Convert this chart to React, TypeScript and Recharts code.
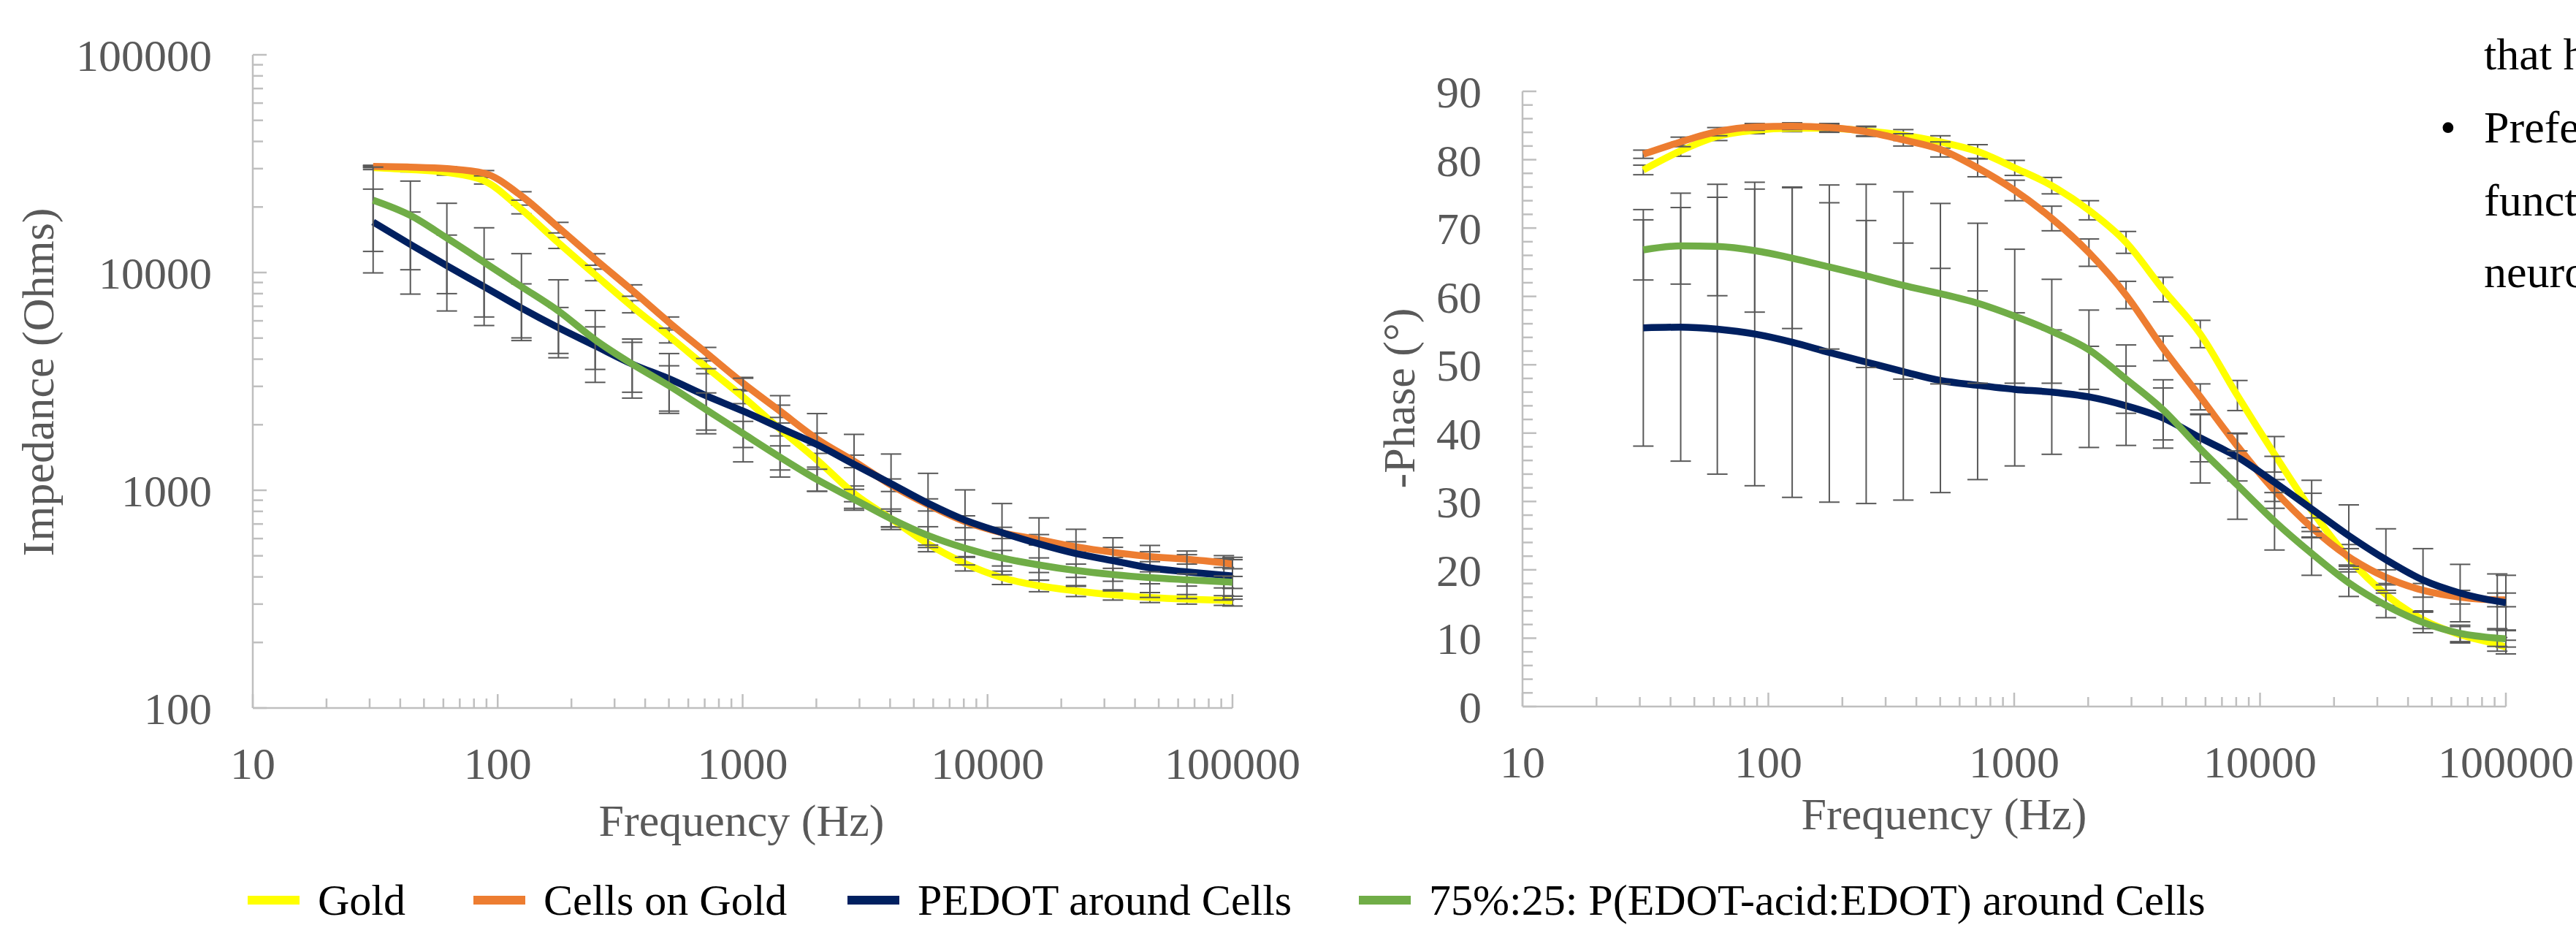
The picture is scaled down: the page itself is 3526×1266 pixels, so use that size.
import { LineChart, Line, XAxis, YAxis, ErrorBar } from "recharts";

// sweep frequencies (Hz)
const frequencies = [31, 44, 62, 88, 125, 177, 250, 354, 501, 710, 1005, 1422, 2014, 2851, 4036, 5715, 8091, 11455, 16218, 22961, 32509, 46026, 65163, 92257, 100000];

// impedance (Ohms)
const goldZ = [30300, 29700, 28800, 26400, 19500, 13700, 9770, 6980, 5100, 3680, 2680, 1907, 1377, 966, 740, 567, 461, 397, 364, 345, 331, 322, 316, 312, 310];
const cellsZ = [30700, 30500, 30000, 28600, 22500, 16100, 11500, 8280, 5900, 4280, 3100, 2310, 1720, 1360, 1057, 858, 718, 638, 593, 550, 519, 496, 482, 464, 458];
const pedotZ = [17060, 13460, 10760, 8610, 6870, 5580, 4610, 3800, 3250, 2717, 2310, 1935, 1620, 1316, 1072, 871, 729, 639, 567, 512, 475, 440, 422, 407, 404];
const mixZ = [21500, 18300, 14400, 11150, 8610, 6660, 4910, 3800, 3020, 2345, 1822, 1419, 1119, 910, 740, 620, 542, 489, 454, 428, 410, 397, 388, 380, 378];

const goldZErr = [600, 700, 800, 900, 900, 800, 600, 450, 350, 250, 180, 130, 100, 80, 60, 45, 35, 28, 22, 20, 18, 17, 16, 16, 16];
const cellsZErr = [400, 500, 600, 800, 1000, 900, 700, 500, 350, 250, 200, 150, 110, 90, 70, 55, 45, 38, 33, 30, 28, 26, 24, 22, 22];
const pedotZErr = [7100, 5500, 4100, 2900, 2000, 1330, 1020, 980, 995, 900, 960, 785, 630, 490, 395, 325, 275, 230, 180, 150, 130, 118, 104, 94, 88];
const mixZErr = [9000, 8000, 6400, 4900, 3600, 2600, 1780, 1150, 710, 455, 250, 180, 130, 100, 80, 60, 50, 40, 35, 30, 28, 25, 25, 24, 24];

// -phase (degrees)
const goldP = [78.5, 81.3, 83.4, 84.3, 84.6, 84.6, 84.2, 83.6, 82.6, 81.2, 78.8, 76.2, 72.6, 67.9, 61.0, 54.5, 45.5, 36.9, 28.7, 21.7, 16.4, 12.7, 10.5, 9.1, 8.7];
const cellsP = [80.8, 82.6, 84.1, 84.8, 84.9, 84.7, 84.1, 82.9, 81.5, 78.8, 75.5, 71.4, 66.4, 60.2, 52.4, 45.3, 38.1, 31.6, 26.2, 21.9, 18.9, 17.0, 16.0, 15.6, 15.6];
const pedotP = [55.4, 55.5, 55.2, 54.5, 53.3, 51.8, 50.4, 49.0, 47.7, 47.0, 46.4, 46.0, 45.3, 44.0, 42.2, 39.3, 36.5, 32.8, 28.9, 25.0, 21.5, 18.5, 16.6, 15.4, 15.2];
const mixP = [66.8, 67.4, 67.3, 66.7, 65.6, 64.3, 63.0, 61.6, 60.4, 59.0, 57.1, 54.9, 52.2, 47.9, 43.4, 37.7, 32.4, 27.1, 22.4, 18.1, 14.8, 12.3, 10.7, 10.0, 9.9];

const goldPErr = [0.7, 0.8, 0.6, 0.5, 0.5, 0.6, 0.7, 0.8, 0.9, 1.0, 1.1, 1.2, 1.4, 1.6, 1.8, 2.0, 2.2, 2.6, 2.5, 2.0, 1.6, 1.3, 1.2, 1.0, 1.0];
const cellsPErr = [0.6, 0.7, 0.6, 0.5, 0.5, 0.6, 0.7, 0.9, 1.1, 1.3, 1.5, 1.8, 2.0, 2.0, 1.8, 1.9, 1.8, 1.6, 1.4, 1.2, 1.1, 1.0, 1.0, 1.0, 1.0];
const pedotPErr = [17.3, 19.6, 21.2, 22.2, 22.7, 21.9, 20.7, 18.8, 16.4, 13.8, 11.2, 9.1, 7.4, 5.8, 4.4, 3.5, 3.5, 3.8, 4.2, 4.5, 4.5, 4.6, 4.2, 4.0, 4.0];
const mixPErr = [4.4, 5.6, 7.2, 9.0, 10.3, 12.0, 13.4, 13.7, 13.2, 11.7, 9.8, 7.6, 5.8, 5.0, 4.4, 5.0, 5.0, 4.2, 3.2, 2.0, 1.8, 1.5, 1.2, 1.2, 1.2];

const seriesNames = ["Gold", "Cells on Gold", "PEDOT around Cells", "75%:25: P(EDOT-acid:EDOT) around Cells"];
const seriesColors = ["#FFFF00", "#ED7D31", "#002060", "#70AD47"];

const freqLabels = [10, 100, 1000, 10000, 100000];
const impedanceLabels = [100, 1000, 10000, 100000];
const phaseLabels = [0, 10, 20, 30, 40, 50, 60, 70, 80, 90];

const AXIS = "#BFBFBF";
const TXT = "#595959";
const FONT = "'Liberation Serif', 'Times New Roman', serif";

// log minor ticks 1..9 per decade
const logTicks = (from: number, to: number) => {
  const out: number[] = [];
  for (let d = from; d < to; d *= 10) for (let m = 1; m < 10; m++) out.push(d * m);
  out.push(to);
  return out;
};
const freqTicks = logTicks(10, 100000);
const impedanceTicks = logTicks(100, 100000);
const phaseTicks = Array.from({ length: 46 }, (_, i) => i * 2);

const zRows = frequencies.map((f, i) => ({
  f,
  gold: goldZ[i], goldErr: goldZErr[i],
  cells: cellsZ[i], cellsErr: cellsZErr[i],
  pedot: pedotZ[i], pedotErr: pedotZErr[i],
  mix: mixZ[i], mixErr: mixZErr[i],
}));
const pRows = frequencies.map((f, i) => ({
  f,
  gold: goldP[i], goldErr: goldPErr[i],
  cells: cellsP[i], cellsErr: cellsPErr[i],
  pedot: pedotP[i], pedotErr: pedotPErr[i],
  mix: mixP[i], mixErr: mixPErr[i],
}));

const XTick = (props: any) => {
  const { x, y, payload } = props;
  const major = freqLabels.includes(payload.value);
  return (
    <g>
      <line x1={x} x2={x} y1={y} y2={y - (major ? 19 : 13)} stroke={AXIS} strokeWidth={2.5} />
      {major && (
        <text x={x} y={y + 97} textAnchor="middle" fill={TXT} fontSize={62} fontFamily={FONT}>
          {payload.value}
        </text>
      )}
    </g>
  );
};

const YTick = (labels: number[]) => (props: any) => {
  const { x, y, payload } = props;
  const major = labels.includes(payload.value);
  return (
    <g>
      <line x1={x} x2={x + (major ? 19 : 14)} y1={y} y2={y} stroke={AXIS} strokeWidth={2.5} />
      {major && (
        <text x={x - 56} y={y + 22} textAnchor="end" fill={TXT} fontSize={62} fontFamily={FONT}>
          {payload.value}
        </text>
      )}
    </g>
  );
};

const keys = ["gold", "cells", "pedot", "mix"];

const renderLines = () =>
  keys.map((k, i) => (
    <Line
      key={k}
      dataKey={k}
      type="monotone"
      stroke={seriesColors[i]}
      strokeWidth={9.5}
      dot={false}
      activeDot={false}
      isAnimationActive={false}
    >
      <ErrorBar dataKey={k + "Err"} width={14} strokeWidth={2} stroke="#595959" />
    </Line>
  ));

export default function App() {
  const legendX = [339, 648, 1160, 1860];
  return (
    <div style={{ position: "absolute", left: 0, top: 0, width: 3526, height: 1266, background: "#fff", overflow: "hidden" }}>
      <div style={{ position: "absolute", left: 0, top: 0 }}>
        <LineChart width={1800} height={1150} data={zRows} margin={{ top: 75, right: 113, bottom: 0, left: 0 }}>
          <XAxis
            dataKey="f" type="number" scale="log" domain={[10, 100000]} allowDataOverflow
            ticks={freqTicks} interval={0} tickSize={0} tickMargin={0} tickLine={false}
            axisLine={{ stroke: AXIS, strokeWidth: 2.5 }} tick={XTick} height={181}
          />
          <YAxis
            type="number" scale="log" domain={[100, 100000]} allowDataOverflow
            ticks={impedanceTicks} interval={0} tickSize={0} tickMargin={0} tickLine={false}
            axisLine={{ stroke: AXIS, strokeWidth: 2.5 }} tick={YTick(impedanceLabels)} width={346}
          />
          {renderLines()}
        </LineChart>
      </div>
      <div style={{ position: "absolute", left: 1800, top: 0 }}>
        <LineChart width={1726} height={1150} data={pRows} margin={{ top: 125, right: 96, bottom: 0, left: 0 }}>
          <XAxis
            dataKey="f" type="number" scale="log" domain={[10, 100000]} allowDataOverflow
            ticks={freqTicks} interval={0} tickSize={0} tickMargin={0} tickLine={false}
            axisLine={{ stroke: AXIS, strokeWidth: 2.5 }} tick={XTick} height={183}
          />
          <YAxis
            type="number" domain={[0, 90]} allowDataOverflow
            ticks={phaseTicks} interval={0} tickSize={0} tickMargin={0} tickLine={false}
            axisLine={{ stroke: AXIS, strokeWidth: 2.5 }} tick={YTick(phaseLabels)} width={284}
          />
          {renderLines()}
        </LineChart>
      </div>
      <svg width={3526} height={1266} style={{ position: "absolute", left: 0, top: 0, pointerEvents: "none" }}>
        <g fontFamily={FONT} fontSize={62} fill={TXT}>
          <text x={1015} y={1144} textAnchor="middle">Frequency (Hz)</text>
          <text x={2661} y={1135} textAnchor="middle">Frequency (Hz)</text>
          <text x={73} y={523} textAnchor="middle" transform="rotate(-90 73 523)">Impedance (Ohms)</text>
          <text x={1936} y={545} textAnchor="middle" transform="rotate(-90 1936 545)">-Phase (°)</text>
        </g>
        <g fontFamily={FONT} fontSize={60} fill="#000">
          {seriesNames.map((n, i) => (
            <g key={n}>
              <rect x={legendX[i]} y={1226} width={71} height={12} fill={seriesColors[i]} />
              <text x={legendX[i] + 96} y={1252}>{n}</text>
            </g>
          ))}
        </g>
        <g fontFamily={FONT} fontSize={62} fill="#000">
          <text x={3400} y={95}>that h</text>
          <text x={3340} y={195}>•</text>
          <text x={3400} y={195}>Prefe</text>
          <text x={3400} y={295}>funct</text>
          <text x={3400} y={393}>neuro</text>
        </g>
      </svg>
    </div>
  );
}
